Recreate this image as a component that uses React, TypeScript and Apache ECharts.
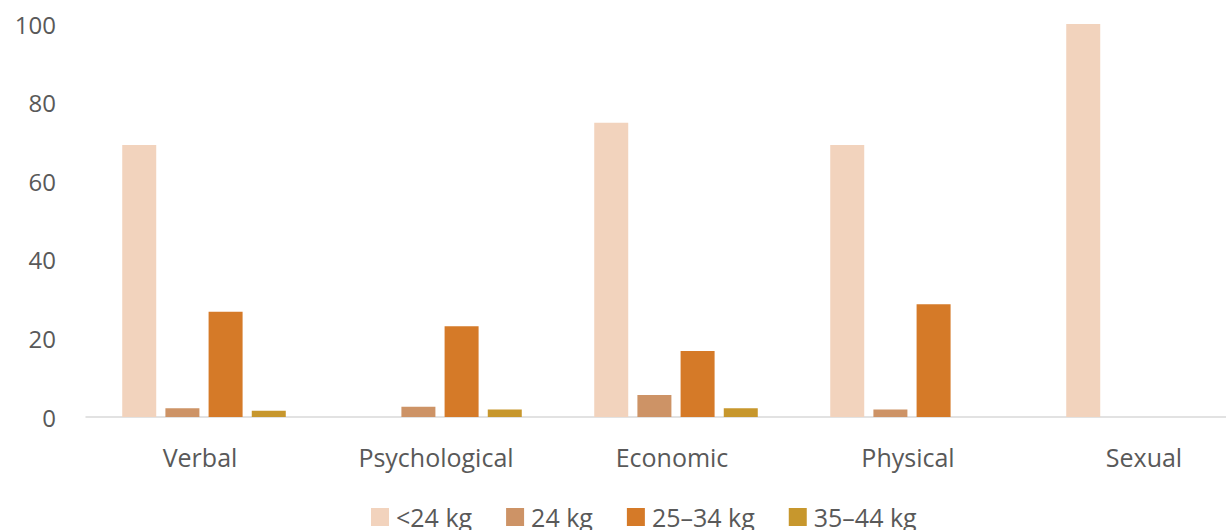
import React, { useEffect, useRef } from "react";
import * as echarts from "echarts";

const categories = ["Verbal", "Psychological", "Economic", "Physical", "Sexual"];
const seriesNames = ["<24 kg", "24 kg", "25–34 kg", "35–44 kg"];
const under24 = [69.2, 0, 74.9, 69.2, 100];
const kg24 = [2.2, 2.6, 5.6, 1.9, 0];
const kg25to34 = [26.8, 23.1, 16.8, 28.7, 0];
const kg35to44 = [1.6, 1.9, 2.2, 0, 0];
const yTicks = [0, 20, 40, 60, 80, 100];

const colors = ["#F2D3BD", "#CD9366", "#D57A28", "#C7972D"];

export default function App() {
  const ref = useRef<HTMLDivElement>(null);
  useEffect(() => {
    if (!ref.current) return;
    const chart = echarts.init(ref.current, null, { renderer: "svg" });
    const values = [under24, kg24, kg25to34, kg35to44];
    const font = "'Open Sans', Lato, sans-serif";
    chart.setOption({
      animation: false,
      textStyle: { fontFamily: font },
      grid: { left: 86, top: 24, right: 0, bottom: 113, containLabel: false },
      legend: {
        left: 366,
        top: 499,
        itemWidth: 18,
        itemHeight: 18,
        itemGap: 34,
        icon: "rect",
        textStyle: { fontSize: 25, lineHeight: 26, color: "#595959", fontFamily: font, padding: [0, 0, 0, 2] },
        data: seriesNames,
      },
      xAxis: {
        type: "category",
        data: categories,
        axisLine: { show: true, lineStyle: { color: "#D9D9D9", width: 1.5 } },
        axisTick: { show: false },
        axisLabel: { fontSize: 25, color: "#595959", margin: 27, fontFamily: font, padding: [0, 8, 0, 0] },
      },
      yAxis: {
        type: "value",
        min: yTicks[0],
        max: yTicks[yTicks.length - 1],
        interval: 20,
        splitLine: { show: false },
        axisLine: { show: false },
        axisTick: { show: false },
        axisLabel: { fontSize: 24, color: "#595959", margin: 30, fontFamily: font },
      },
      series: seriesNames.map((name, i) => ({
        name,
        type: "bar",
        data: values[i],
        barWidth: 34,
        barGap: "27%",
        itemStyle: { color: colors[i] },
      })),
    });
    return () => chart.dispose();
  }, []);
  return (
    <div
      ref={ref}
      style={{ position: "fixed", left: 0, top: 0, width: 1266, height: 530, background: "#fff" }}
    />
  );
}
